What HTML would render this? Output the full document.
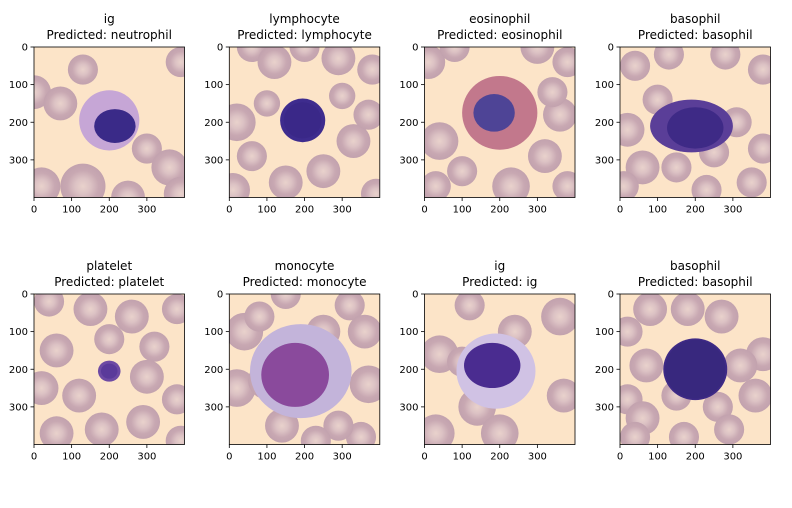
<!DOCTYPE html>
<html><head><meta charset="utf-8">
<style>
body{margin:0;background:#fff;width:792px;height:504px;overflow:hidden;font-family:"DejaVu Sans","Liberation Sans",sans-serif;}
svg text{font-family:"DejaVu Sans","Liberation Sans",sans-serif;fill:#000;}
</style></head>
<body>
<svg id="fig" width="792" height="504" viewBox="0 0 792 504" xmlns="http://www.w3.org/2000/svg">
<defs>
<radialGradient id="rbc" cx="50%" cy="50%" r="50%">
<stop offset="0" stop-color="#e9d2cc"/><stop offset="0.35" stop-color="#dcc2c4"/><stop offset="0.7" stop-color="#c8a8b2"/><stop offset="1" stop-color="#c2a2ae"/>
</radialGradient>
</defs>
</svg>
<script>
const trueLabels=["ig","lymphocyte","eosinophil","basophil","platelet","monocyte","ig","basophil"];
const predLabels=["neutrophil","lymphocyte","eosinophil","basophil","platelet","monocyte","ig","basophil"];
const ticks=[0,100,200,300];
const rbcs=[
[[130,60,40],[0,120,45],[70,150,45],[390,40,40],[300,270,40],[360,320,48],[20,370,50],[130,370,60],[250,400,45],[390,390,45]],
[[60,0,40],[120,40,45],[200,0,40],[290,30,45],[380,60,40],[20,200,50],[100,150,35],[60,290,40],[10,380,45],[150,360,45],[250,330,45],[330,250,45],[370,180,40],[300,130,35],[390,390,40]],
[[10,40,45],[80,0,40],[300,0,45],[380,40,40],[360,180,45],[320,290,45],[380,370,40],[40,250,50],[100,330,40],[30,370,40],[230,370,50],[340,120,40]],
[[40,50,40],[130,20,40],[280,20,40],[380,60,40],[100,140,40],[20,220,45],[60,320,45],[10,370,40],[150,320,40],[250,280,40],[310,200,40],[380,270,40],[350,360,40],[230,380,40]],
[[40,20,40],[150,40,45],[260,60,45],[380,40,40],[60,150,45],[200,120,40],[320,140,40],[20,250,45],[120,270,45],[300,220,45],[380,280,40],[60,370,45],[180,360,45],[290,340,45],[390,390,40]],
[[40,100,50],[20,250,50],[100,230,50],[80,60,40],[150,0,40],[250,100,45],[320,30,40],[360,100,45],[370,240,50],[350,380,40],[290,350,40],[140,350,45],[230,390,40]],
[[40,160,50],[120,30,40],[240,100,45],[360,60,50],[370,270,45],[30,370,50],[140,300,50],[200,370,50],[100,180,40]],
[[20,100,40],[80,40,45],[180,40,45],[270,60,45],[380,160,45],[70,190,45],[20,280,40],[60,330,45],[150,270,40],[170,380,40],[260,300,40],[290,360,40],[360,270,45],[40,380,40],[320,190,45]]
];
const cellX=[200,195,200,190,200,190,190,200];
const cellY=[195,195,175,210,205,205,205,200];
const cellRx=[80,60,100,110,30,135,105,85];
const cellRy=[80,58,98,70,28,125,100,82];
const cellCol=["#c6a6d6","#3e2c8e","#c2788c","#5a3e98","#6d4aa4","#c3b4da","#d0c2e4","#3e2a86"];
const nucRx=[55,50,55,75,22,90,75,80];
const nucRy=[45,48,50,55,20,85,60,78];
const nucDX=[15,0,-15,10,0,-15,-10,0];
const nucDY=[15,0,0,5,0,10,-15,0];
const nucCol=["#3a2a88","#3a2888","#4e4496","#3e2a86","#5a3a9a","#8a4a9c","#4a2c90","#38287e"];
const svg=document.getElementById('fig');
const NS="http://www.w3.org/2000/svg";
const colX=[34,229.3,424.5,620];
const rowY=[47,294];
const W=150.5;
function mk(t,a,p){const e=document.createElementNS(NS,t);for(const k in a)e.setAttribute(k,a[k]);(p||svg).appendChild(e);return e;}
for(let i=0;i<8;i++){
  const x0=colX[i%4],y0=rowY[Math.floor(i/4)];
  const sx=v=>x0+v*W/400, sy=v=>y0+v*W/400;
  const g=mk('g',{});
  
  
  const cp=mk('clipPath',{id:'c'+i},g);
  mk('rect',{x:x0,y:y0,width:W,height:W},cp);
  const img=mk('g',{'clip-path':'url(#c'+i+')'},g);
  
  
  mk('rect',{x:x0,y:y0,width:W,height:W,fill:'#fce4c8'},img);
  rbcs[i].forEach(r=>{
    const c=mk('circle',{cx:sx(r[0]),cy:sy(r[1]),r:r[2]*W/400,fill:'url(#rbc)'},img);
    
    
  });
  const cell=mk('ellipse',{cx:sx(cellX[i]),cy:sy(cellY[i]),rx:cellRx[i]*W/400,ry:cellRy[i]*W/400,fill:cellCol[i]},img);
  
  
  const nuc=mk('ellipse',{cx:sx(cellX[i]+nucDX[i]),cy:sy(cellY[i]+nucDY[i]),rx:nucRx[i]*W/400,ry:nucRy[i]*W/400,fill:nucCol[i]},img);
  
  
  const fr=mk('rect',{x:x0,y:y0,width:W,height:W,fill:'none',stroke:'#000','stroke-width':0.8},g);
  
  
  ticks.forEach(t=>{
    mk('line',{x1:sx(t),x2:sx(t),y1:y0+W,y2:y0+W+3.5,stroke:'#000','stroke-width':0.8},g);
    const xl=mk('text',{x:sx(t),y:y0+W+15,'font-size':10,'text-anchor':'middle'},g);
    xl.textContent=t;
    
    
    mk('line',{x1:x0-3.5,x2:x0,y1:sy(t),y2:sy(t),stroke:'#000','stroke-width':0.8},g);
    const yl=mk('text',{x:x0-6,y:sy(t)+3.5,'font-size':10,'text-anchor':'end'},g);
    yl.textContent=t;
    
    
  });
  const t1=mk('text',{x:x0+W/2,y:y0-24,'font-size':12,'text-anchor':'middle'},g);
  t1.textContent=trueLabels[i];
  
  
  const t2=mk('text',{x:x0+W/2,y:y0-8,'font-size':12,'text-anchor':'middle'},g);
  t2.textContent='Predicted: '+predLabels[i];
  
  
}
</script>
</body></html>
